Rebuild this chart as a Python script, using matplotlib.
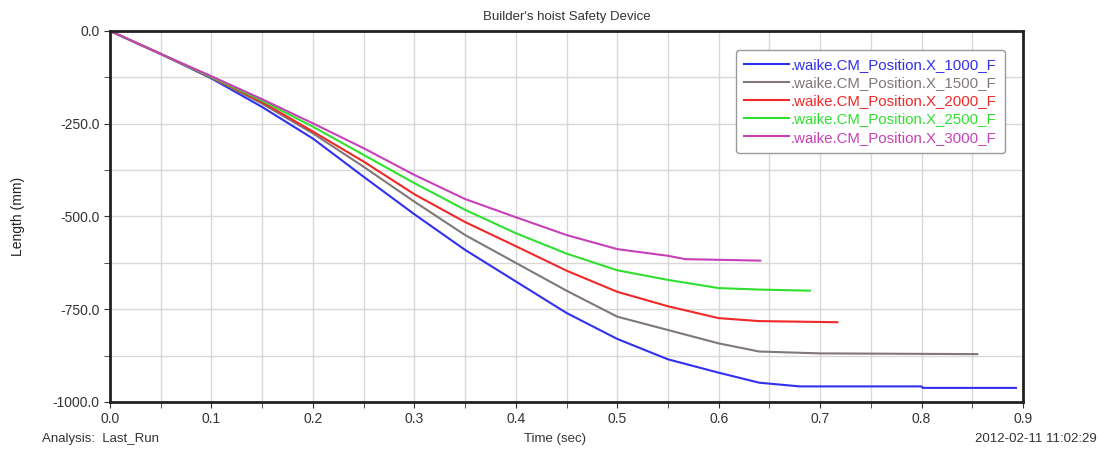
import matplotlib
matplotlib.use('Agg')
import matplotlib.pyplot as plt
from matplotlib.ticker import MultipleLocator, FormatStrFormatter

plt.rcParams['font.family'] = ['Liberation Sans', 'DejaVu Sans']

# data (time in sec, length in mm)
t_1000 = [0, 0.05, 0.1, 0.15, 0.2, 0.25, 0.3, 0.35, 0.4, 0.45, 0.5, 0.55, 0.6, 0.64, 0.68, 0.8, 0.801, 0.893]
y_1000 = [0, -62, -128, -205, -290, -393, -494, -590, -675, -760, -830, -885, -921, -948, -958, -958, -962, -962]

t_1500 = [0, 0.05, 0.1, 0.15, 0.2, 0.25, 0.3, 0.35, 0.4, 0.45, 0.5, 0.55, 0.6, 0.64, 0.7, 0.855]
y_1500 = [0, -62, -126, -196, -276, -366, -460, -550, -625, -700, -770, -806, -842, -864, -869, -871]

t_2000 = [0, 0.05, 0.1, 0.15, 0.2, 0.25, 0.3, 0.35, 0.4, 0.45, 0.5, 0.55, 0.6, 0.64, 0.717]
y_2000 = [0, -62, -125, -192, -271, -352, -440, -515, -580, -646, -703, -742, -774, -782, -785]

t_2500 = [0, 0.05, 0.1, 0.15, 0.2, 0.25, 0.3, 0.35, 0.4, 0.45, 0.5, 0.55, 0.6, 0.64, 0.69]
y_2500 = [0, -62, -124, -188, -258, -334, -410, -482, -545, -600, -645, -671, -693, -697, -700]

t_3000 = [0, 0.05, 0.1, 0.15, 0.2, 0.25, 0.3, 0.35, 0.4, 0.45, 0.5, 0.55, 0.567, 0.641]
y_3000 = [0, -62, -122, -184, -249, -316, -388, -453, -502, -550, -588, -606, -615, -619]

labels = ['.waike.CM_Position.X_1000_F', '.waike.CM_Position.X_1500_F',
          '.waike.CM_Position.X_2000_F', '.waike.CM_Position.X_2500_F',
          '.waike.CM_Position.X_3000_F']
colors = ['#3030f0', '#807878', '#f02828', '#30e030', '#c840b8']

fig = plt.figure(figsize=(11, 4.55), dpi=100)
ax = fig.add_axes([0.1, 0.1165, 0.83, 0.8155])

series = [(t_1000, y_1000), (t_1500, y_1500), (t_2000, y_2000),
          (t_2500, y_2500), (t_3000, y_3000)]
for (t, y), lab, c in zip(series, labels, colors):
    ax.plot(t, y, color=c, lw=1.5, label=lab)

ax.set_xlim(0, 0.9)
ax.set_ylim(-1000, 0)
ax.xaxis.set_major_locator(MultipleLocator(0.1))
ax.xaxis.set_minor_locator(MultipleLocator(0.05))
ax.yaxis.set_major_locator(MultipleLocator(250))
ax.yaxis.set_minor_locator(MultipleLocator(125))
ax.xaxis.set_major_formatter(FormatStrFormatter('%.1f'))
ax.yaxis.set_major_formatter(FormatStrFormatter('%.1f'))
ax.grid(True, which='both', color='#d8d8d8', lw=1)
ax.set_axisbelow(True)
ax.tick_params(which='both', direction='out', length=4, colors='#333333',
               labelsize=10, labelcolor='#333333')
for s in ax.spines.values():
    s.set_linewidth(2)
    s.set_color('#222222')

ax.set_title("Builder's hoist Safety Device", fontsize=9.5, color='#333333', pad=8)
ax.set_ylabel('Length (mm)', fontsize=10, color='#222222', labelpad=20)
fig.text(0.505, 0.028, 'Time (sec)', ha='center', fontsize=9.5, color='#333333')
fig.text(0.038, 0.028, 'Analysis:  Last_Run', ha='left', fontsize=9.5, color='#333333')
fig.text(0.997, 0.028, '2012-02-11 11:02:29', ha='right', fontsize=9.5, color='#333333')

leg = ax.legend(loc='upper right', bbox_to_anchor=(0.988, 0.97), fontsize=10.8,
                handlelength=3, handletextpad=0.1, labelspacing=0.28,
                borderpad=0.55, fancybox=True, framealpha=1, edgecolor='#999999')
for txt, c in zip(leg.get_texts(), colors):
    txt.set_color(c)

fig.savefig('out.png', dpi=100)
